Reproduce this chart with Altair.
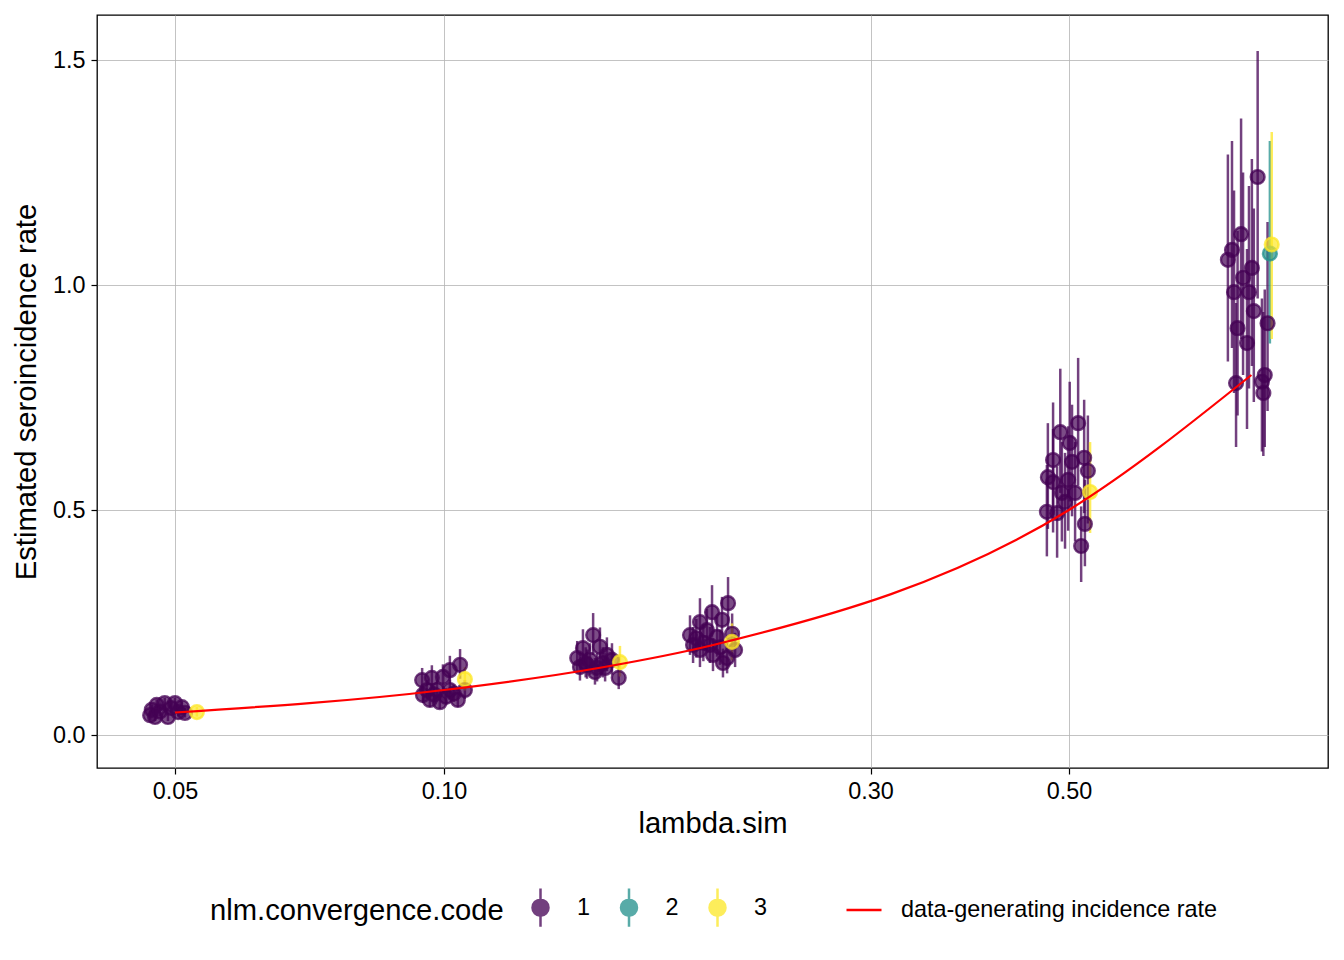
import altair as alt
import pandas as pd

# ---- data ----
x05 = [0.0469, 0.0471, 0.0475, 0.0477, 0.0481, 0.0487, 0.0491, 0.0495, 0.0500, 0.0504, 0.0509, 0.0513, 0.0529]
y05 = [0.044, 0.056, 0.040, 0.067, 0.052, 0.071, 0.040, 0.060, 0.071, 0.051, 0.062, 0.049, 0.051]
lo05 = [0.034, 0.045, 0.031, 0.055, 0.042, 0.059, 0.031, 0.049, 0.059, 0.041, 0.051, 0.039, 0.041]
hi05 = [0.055, 0.068, 0.050, 0.079, 0.063, 0.083, 0.050, 0.072, 0.083, 0.062, 0.074, 0.060, 0.062]
c05 = ["1"] * 12 + ["3"]

x10 = [0.0945, 0.0947, 0.0957, 0.0964, 0.0969, 0.0975, 0.0982, 0.0989, 0.0997, 0.1005, 0.1015, 0.1015, 0.1025, 0.1036, 0.1042, 0.1055, 0.1055]
y10 = [0.122, 0.089, 0.100, 0.078, 0.127, 0.090, 0.100, 0.073, 0.129, 0.085, 0.144, 0.100, 0.092, 0.078, 0.156, 0.100, 0.124]
lo10 = [0.098, 0.071, 0.080, 0.062, 0.102, 0.072, 0.080, 0.058, 0.103, 0.068, 0.115, 0.080, 0.074, 0.062, 0.125, 0.080, 0.099]
hi10 = [0.149, 0.109, 0.122, 0.095, 0.155, 0.110, 0.122, 0.089, 0.157, 0.104, 0.176, 0.122, 0.112, 0.095, 0.191, 0.122, 0.151]
c10 = ["1"] * 16 + ["3"]

x15 = [0.1409, 0.1419, 0.1430, 0.1440, 0.1445, 0.1456, 0.1468, 0.1475, 0.1483, 0.1494, 0.1505, 0.1514, 0.1521, 0.1541, 0.1568, 0.1573]
y15 = [0.171, 0.151, 0.193, 0.160, 0.156, 0.167, 0.222, 0.140, 0.149, 0.196, 0.160, 0.149, 0.178, 0.167, 0.127, 0.162]
lo15 = [0.137, 0.121, 0.154, 0.128, 0.125, 0.134, 0.178, 0.112, 0.119, 0.157, 0.128, 0.119, 0.142, 0.134, 0.102, 0.130]
hi15 = [0.209, 0.184, 0.235, 0.195, 0.190, 0.204, 0.271, 0.171, 0.182, 0.239, 0.195, 0.182, 0.217, 0.204, 0.155, 0.198]
c15 = ["1"] * 15 + ["3"]

x20 = [0.1884, 0.1899, 0.1915, 0.1933, 0.1933, 0.1950, 0.1968, 0.1983, 0.1994, 0.1999, 0.2020, 0.2035, 0.2046, 0.2051, 0.2073, 0.2078, 0.2100, 0.2116, 0.2099]
y20 = [0.222, 0.200, 0.215, 0.251, 0.189, 0.205, 0.233, 0.200, 0.273, 0.178, 0.218, 0.195, 0.256, 0.160, 0.171, 0.293, 0.225, 0.189, 0.207]
lo20 = [0.178, 0.160, 0.172, 0.201, 0.151, 0.164, 0.186, 0.160, 0.218, 0.142, 0.174, 0.156, 0.205, 0.128, 0.137, 0.234, 0.180, 0.151, 0.166]
hi20 = [0.266, 0.240, 0.258, 0.304, 0.227, 0.246, 0.280, 0.240, 0.333, 0.214, 0.262, 0.234, 0.307, 0.192, 0.205, 0.351, 0.270, 0.227, 0.248]
c20 = ["1"] * 18 + ["3"]

x50 = [0.4724, 0.4736, 0.4800, 0.4800, 0.4850, 0.4890, 0.4910, 0.4950, 0.4990, 0.5010, 0.5040, 0.5080, 0.5120, 0.5160, 0.5200, 0.5210, 0.5250, 0.5280]
y50 = [0.496, 0.573, 0.611, 0.562, 0.493, 0.673, 0.538, 0.518, 0.567, 0.649, 0.607, 0.538, 0.693, 0.420, 0.616, 0.469, 0.587, 0.540]
lo50 = [0.397, 0.458, 0.489, 0.450, 0.394, 0.538, 0.430, 0.414, 0.454, 0.519, 0.486, 0.430, 0.554, 0.340, 0.493, 0.375, 0.470, 0.449]
hi50 = [0.600, 0.693, 0.739, 0.680, 0.597, 0.814, 0.651, 0.627, 0.686, 0.785, 0.734, 0.651, 0.838, 0.508, 0.745, 0.567, 0.710, 0.651]
c50 = ["1"] * 17 + ["3"]

x80 = [0.753, 0.761, 0.765, 0.769, 0.772, 0.779, 0.783, 0.791, 0.795, 0.801, 0.805, 0.813, 0.822, 0.825, 0.828, 0.834, 0.839, 0.843]
y80 = [1.056, 1.078, 0.984, 0.782, 0.904, 1.113, 1.016, 0.871, 0.984, 1.038, 0.942, 1.240, 0.785, 0.760, 0.800, 0.915, 1.070, 1.090]
lo80 = [0.83, 0.86, 0.76, 0.64, 0.71, 0.88, 0.80, 0.68, 0.77, 0.82, 0.74, 0.97, 0.63, 0.62, 0.64, 0.72, 0.87, 0.88]
hi80 = [1.29, 1.32, 1.21, 0.96, 1.12, 1.37, 1.25, 1.08, 1.22, 1.28, 1.17, 1.52, 0.97, 0.94, 0.99, 1.14, 1.32, 1.34]
c80 = ["1"] * 16 + ["2", "3"]

lambda_sim = [0.05, 0.10, 0.15, 0.20, 0.50, 0.80]
codes = ["1", "2", "3"]
code_colors = ["#440154", "#21908C", "#FDE725"]
line_label = "data-generating incidence rate"

# ---- tables ----
df = pd.DataFrame({
    "x": x05 + x10 + x15 + x20 + x50 + x80,
    "y": y05 + y10 + y15 + y20 + y50 + y80,
    "lo": lo05 + lo10 + lo15 + lo20 + lo50 + lo80,
    "hi": hi05 + hi10 + hi15 + hi20 + hi50 + hi80,
    "code": c05 + c10 + c15 + c20 + c50 + c80,
})
df = df.sort_values("code", kind="stable").reset_index(drop=True)

line_df = pd.DataFrame({"x": lambda_sim, "y": lambda_sim, "lab": [line_label] * len(lambda_sim)})

FONT = "Liberation Sans"
TITLE_SIZE = 29.2
LABEL_SIZE = 23.4

xscale = alt.Scale(type="log", domain=[0.0409, 0.9745], nice=False)
yscale = alt.Scale(domain=[-0.0733, 1.6], nice=False, zero=False)

xaxis = alt.Axis(values=[0.05, 0.1, 0.3, 0.5], format=".2f", title="lambda.sim",
                 titlePadding=7)
yaxis = alt.Axis(values=[0, 0.5, 1.0, 1.5], format=".1f", title="Estimated seroincidence rate",
                 titlePadding=11)

sym_path = "M0,-1.2L0,1.2M-0.5,0A0.5,0.5,0,1,0,0.5,0A0.5,0.5,0,1,0,-0.5,0Z"
code_legend = alt.Legend(
    title="nlm.convergence.code", orient="none", legendX=113, legendY=875,
    direction="horizontal", titleOrient="left", titleFontSize=TITLE_SIZE, titleFont=FONT,
    titleFontWeight="normal", titleColor="black", titlePadding=19, titleLimit=600,
    labelFontSize=LABEL_SIZE, labelFont=FONT, labelColor="black", labelOffset=19, labelLimit=300,
    symbolType=sym_path, symbolSize=1024, symbolOpacity=0.75, symbolStrokeWidth=2.5,
    columnPadding=20.5,
)
line_legend = alt.Legend(
    title=None, orient="none", legendX=748, legendY=876,
    labelFontSize=LABEL_SIZE, labelFont=FONT, labelColor="black", labelOffset=18, labelLimit=600,
    symbolType="stroke", symbolSize=1225, symbolStrokeWidth=2.5,
)

fill_enc = alt.Fill("code:N", scale=alt.Scale(domain=codes, range=code_colors), legend=code_legend)
stroke_enc = alt.Stroke("code:N", scale=alt.Scale(domain=codes, range=code_colors), legend=code_legend)

bars = alt.Chart(df).mark_rule(strokeWidth=2.5, opacity=0.75).encode(
    x=alt.X("x:Q", scale=xscale, axis=xaxis),
    y=alt.Y("lo:Q", scale=yscale, axis=yaxis),
    y2="hi:Q",
    stroke=stroke_enc,
)

points = alt.Chart(df).mark_point(filled=True, size=190, fillOpacity=0.7, strokeOpacity=0.75,
                                  strokeWidth=2.4).encode(
    x=alt.X("x:Q", scale=xscale),
    y=alt.Y("y:Q", scale=yscale),
    fill=fill_enc,
    stroke=stroke_enc,
)

line = alt.Chart(line_df).mark_line(strokeWidth=2.2, interpolate="monotone").encode(
    x=alt.X("x:Q", scale=xscale),
    y=alt.Y("y:Q", scale=yscale),
    color=alt.Color("lab:N", scale=alt.Scale(domain=[line_label], range=["#ff0000"]), legend=line_legend),
)

chart = alt.layer(bars, points, line).properties(
    width=1231, height=753,
    autosize=alt.AutoSizeParams(type="none"),
    padding={"left": 89, "top": 7, "right": 8, "bottom": 180},
).configure_view(
    stroke="black", strokeWidth=1.3
).configure_axis(
    labelFont=FONT, labelFontSize=LABEL_SIZE, labelColor="black",
    titleFont=FONT, titleFontSize=TITLE_SIZE, titleFontWeight="normal", titleColor="black",
    domain=False, tickColor="black", tickSize=6, tickWidth=1.2,
    gridColor="#b4b4b4", gridWidth=0.8, labelPadding=6,
)

chart.save("out.html", embed_options={"renderer": "svg", "actions": False})
